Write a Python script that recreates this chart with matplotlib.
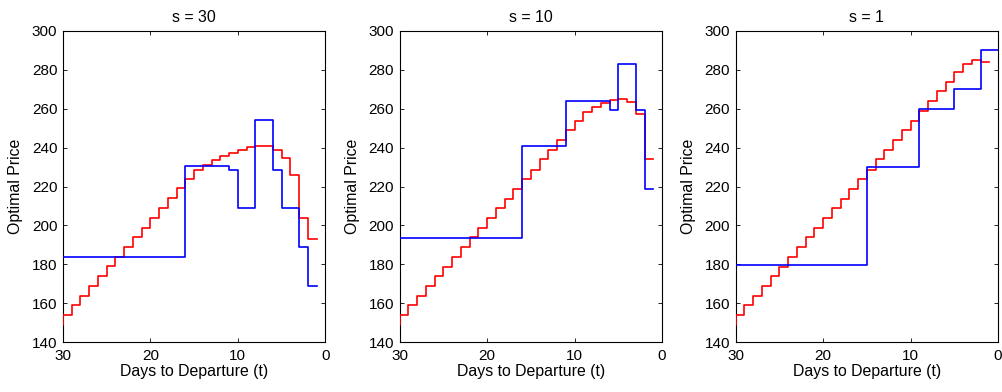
import matplotlib
matplotlib.use("Agg")
import matplotlib.pyplot as plt
import numpy as np

plt.rcParams['font.family'] = ['Liberation Sans', 'DejaVu Sans']

titles = ["s = 30", "s = 10", "s = 1"]

# Red series: one value per day, days 31 (clipped) .. 1
red_days = list(range(31, 0, -1))
red_s30 = [149, 153.7, 158.8, 163.8, 168.8, 173.7, 178.9, 183.9, 188.8, 193.8, 198.9,
           203.9, 208.9, 214.0, 219.0, 223.9, 228.7, 231.1, 233.5, 235.6, 237.3,
           239.0, 240.4, 240.9, 240.6, 238.7, 234.6, 225.7, 203.7, 193.1, 193.1]
red_s10 = [149, 153.7, 158.8, 163.8, 168.8, 173.7, 178.7, 183.9, 188.8, 193.8, 198.9,
           203.9, 208.9, 213.8, 218.8, 223.8, 228.7, 233.9, 238.8, 244.0, 248.9,
           253.9, 258.4, 260.9, 263.0, 264.4, 264.9, 263.5, 257.2, 234.1, 234.1]
red_s1 = [149, 153.7, 158.8, 163.8, 168.8, 173.7, 178.7, 183.9, 188.8, 193.8, 198.9,
          203.9, 208.9, 213.8, 218.8, 223.9, 228.7, 233.9, 238.8, 244.0, 248.9,
          253.9, 258.9, 264.0, 269.0, 274.0, 278.9, 283.0, 285.1, 284.1, 284.1]

# Blue series: breakpoints (days) and levels
blue_s30_days = [30, 16, 11, 10, 8, 6, 5, 3, 2, 1]
blue_s30_vals = [183.9, 230.6, 228.7, 208.9, 254.3, 228.7, 208.9, 188.7, 168.8, 168.8]
blue_s10_days = [30, 16, 11, 6, 5, 3, 2, 1]
blue_s10_vals = [193.6, 240.6, 264.2, 259.1, 282.9, 259.1, 218.8, 218.8]
blue_s1_days = [30, 15, 9, 5, 2, 0]
blue_s1_vals = [179.7, 229.9, 259.9, 270.0, 290.1, 290.1]

red_all = [red_s30, red_s10, red_s1]
blue_all = [(blue_s30_days, blue_s30_vals), (blue_s10_days, blue_s10_vals),
            (blue_s1_days, blue_s1_vals)]

x_ticks = [30, 20, 10, 0]
y_ticks = [140, 160, 180, 200, 220, 240, 260, 280, 300]

W, H = 1002, 392
fig = plt.figure(figsize=(W / 100, H / 100), dpi=100)
lefts = [63, 399.7, 735.7]
ax_w = 262.3
top, bottom = 31, 342

for i in range(3):
    ax = fig.add_axes([lefts[i] / W, 1 - bottom / H, ax_w / W, (bottom - top) / H])
    ax.step(red_days, red_all[i], where='post', color='#ff0000', lw=1.2, zorder=3)
    bd, bv = blue_all[i]
    ax.step(bd, bv, where='post', color='#0000ff', lw=1.2, zorder=3.1)
    ax.set_xlim(30, 0)
    ax.set_ylim(140, 300)
    ax.set_xticks(x_ticks)
    ax.set_yticks(y_ticks)
    ax.tick_params(direction='in', top=True, right=True, labelsize=11, length=3, width=0.6)
    ax.tick_params(axis='y', pad=4)
    ax.tick_params(axis='x', pad=5)
    for sp in ax.spines.values():
        sp.set_linewidth(0.8)
    ax.set_title(titles[i], fontsize=11.4, pad=6.5)
    ax.set_xlabel("Days to Departure (t)", fontsize=11.4, labelpad=1)
    ax.set_ylabel("Optimal Price", fontsize=11.4, labelpad=6.5)

fig.savefig("out.png", dpi=100)
